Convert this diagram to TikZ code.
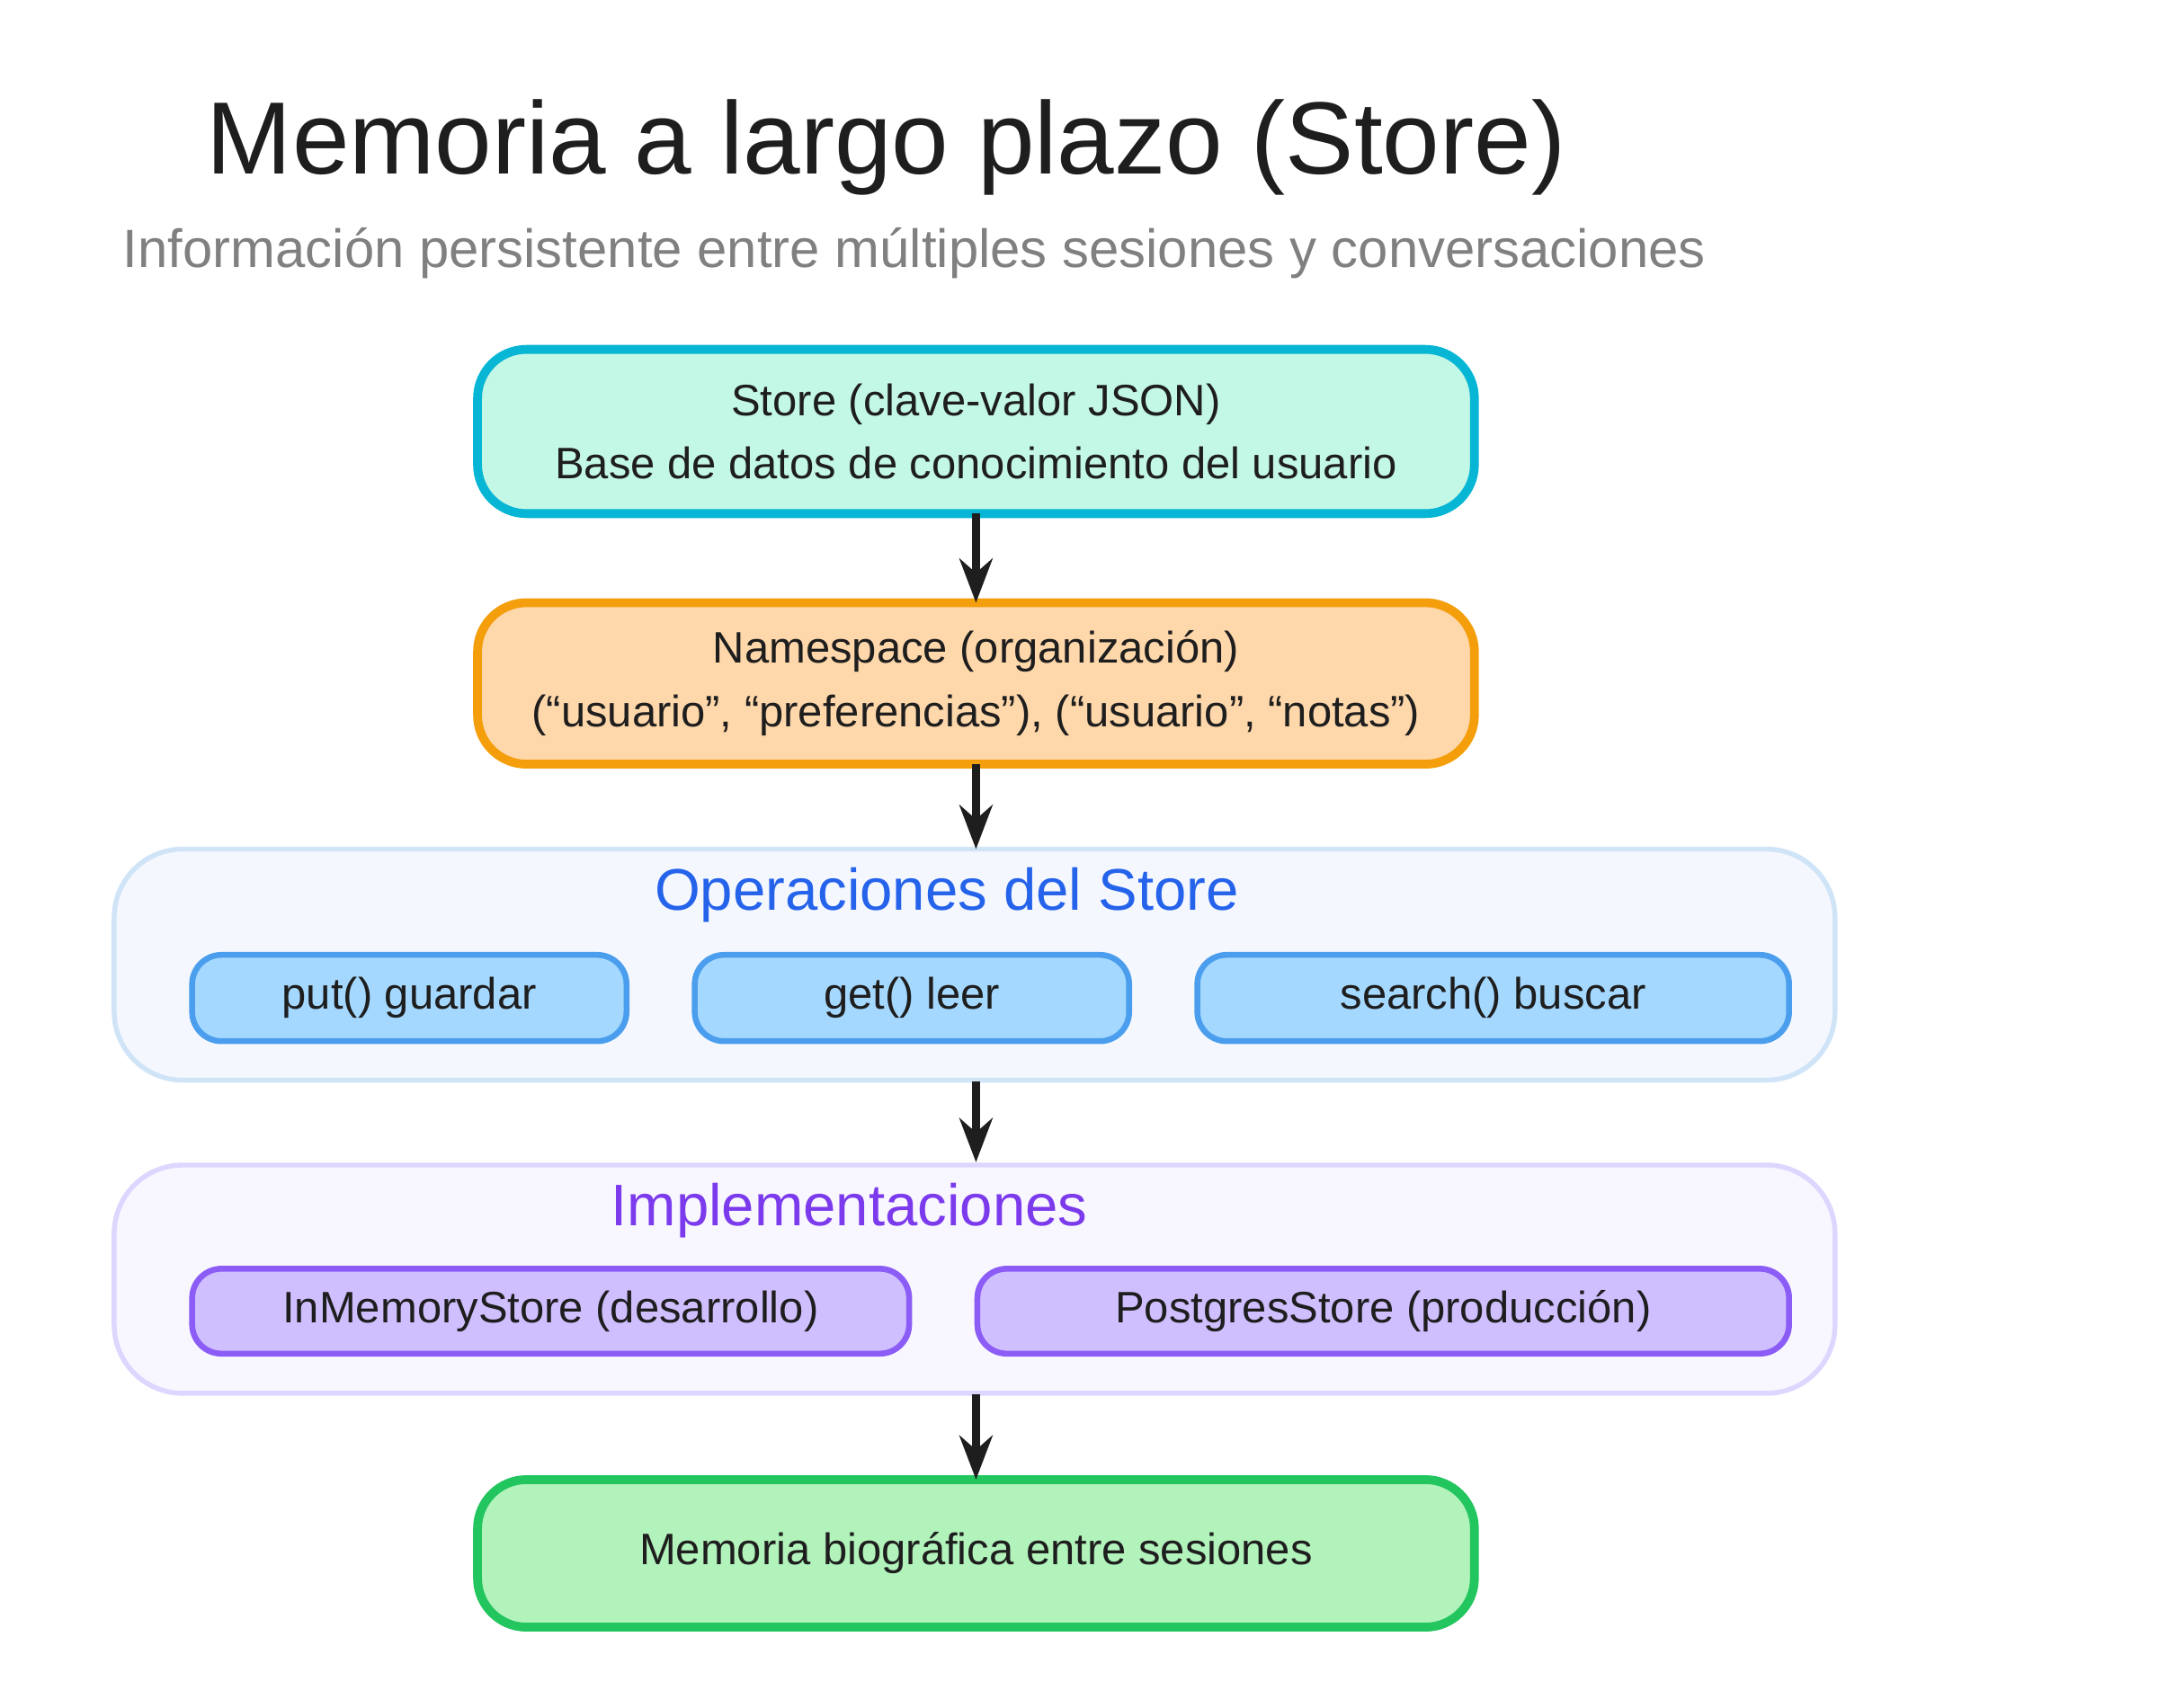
\documentclass[tikz,border=0pt]{standalone}
\usepackage{fontspec}
\setmainfont{Liberation Sans}
\usetikzlibrary{positioning, arrows.meta}

\definecolor{storeFill}{HTML}{C3F7E6}
\definecolor{storeLine}{HTML}{06B6D4}
\definecolor{nsFill}{HTML}{FED7AA}
\definecolor{nsLine}{HTML}{F59E0B}
\definecolor{opsFill}{HTML}{F5F7FF}
\definecolor{opsLine}{HTML}{D0E4F7}
\definecolor{opFill}{HTML}{A5D8FF}
\definecolor{opLine}{HTML}{4A9EED}
\definecolor{opsText}{HTML}{2563EB}
\definecolor{implFill}{HTML}{F8F7FF}
\definecolor{implLine}{HTML}{DDD6FE}
\definecolor{impFill}{HTML}{D0BFFF}
\definecolor{impLine}{HTML}{8B5CF6}
\definecolor{implText}{HTML}{7C3AED}
\definecolor{bioFill}{HTML}{B2F2BB}
\definecolor{bioLine}{HTML}{22C55E}
\definecolor{ink}{HTML}{1E1E1E}

\begin{document}
\begin{tikzpicture}[-{Stealth[length=9pt]},
		box/.style = {draw, rounded corners = 10pt, line width = 1.8pt, align = center,
			font = \fontsize{9}{13}\selectfont, text = ink, outer sep = 0pt},
		group/.style = {draw, rounded corners = 14pt, line width = 1pt, outer sep = 0pt},
		op/.style = {draw = opLine, fill = opFill, rounded corners = 6pt, line width = 1.2pt,
			minimum height = 0.62cm, font = \fontsize{9}{11}\selectfont, text = ink},
		imp/.style = {draw = impLine, fill = impFill, rounded corners = 6pt, line width = 1.2pt,
			minimum height = 0.61cm, font = \fontsize{9}{11}\selectfont, text = ink},
		arrow/.style = {draw = ink, line width = 1.5pt}]

		\useasboundingbox (0,0) rectangle (15.5,-12.27);

		%title
		\node[anchor = west, font = \fontsize{21}{25}\selectfont, text = ink] (title) at (1.36,-1.06) {Memoria a largo plazo (Store)};
		\node[anchor = west, font = \fontsize{11}{14}\selectfont, text = gray] (subtitle) at (0.76,-1.82) {Información persistente entre múltiples sesiones y conversaciones};

		%store and namespace
		\node[box, draw = storeLine, fill = storeFill, minimum width = 7.16cm, minimum height = 1.18cm] (store) at (7.01,-3.10) {Store (clave-valor JSON)\\Base de datos de conocimiento del usuario};
		\node[box, draw = nsLine, fill = nsFill, minimum width = 7.16cm, minimum height = 1.16cm] (namespace) at (7.01,-4.91) {Namespace (organización)\\(``usuario'', ``preferencias''), (``usuario'', ``notas'')};

		%operations group
		\node[group, draw = opsLine, fill = opsFill, minimum width = 12.36cm, minimum height = 1.66cm] (ops) at (7.00,-6.93) {};
		\node[font = \fontsize{12}{14}\selectfont, text = opsText] (opsTitle) at (6.80,-6.43) {Operaciones del Store};
		\node[op, minimum width = 3.12cm] (put) at (2.94,-7.17) {put() guardar};
		\node[op, minimum width = 3.12cm] (get) at (6.55,-7.17) {get() leer};
		\node[op, minimum width = 4.25cm] (search) at (10.725,-7.17) {search() buscar};

		%implementations group
		\node[group, draw = implLine, fill = implFill, minimum width = 12.36cm, minimum height = 1.64cm] (impl) at (7.00,-9.19) {};
		\node[font = \fontsize{12}{14}\selectfont, text = implText] (implTitle) at (6.10,-8.70) {Implementaciones};
		\node[imp, minimum width = 5.15cm] (inmem) at (3.955,-9.42) {InMemoryStore (desarrollo)};
		\node[imp, minimum width = 5.83cm] (postgres) at (9.935,-9.42) {PostgresStore (producción)};

		%result
		\node[box, draw = bioLine, fill = bioFill, minimum width = 7.16cm, minimum height = 1.06cm] (bio) at (7.01,-11.16) {Memoria biográfica entre sesiones};

		% arrows
		\coordinate (opsTop) at (7.01,-6.10);
		\coordinate (opsBottom) at (7.01,-7.77);
		\coordinate (implTop) at (7.01,-8.35);
		\coordinate (implBottom) at (7.01,-10.02);
		\draw[arrow] (store) -- (namespace);
		\draw[arrow] (namespace) -- (opsTop);
		\draw[arrow] (opsBottom) -- (implTop);
		\draw[arrow] (implBottom) -- (bio);
	\end{tikzpicture}
\end{document}
